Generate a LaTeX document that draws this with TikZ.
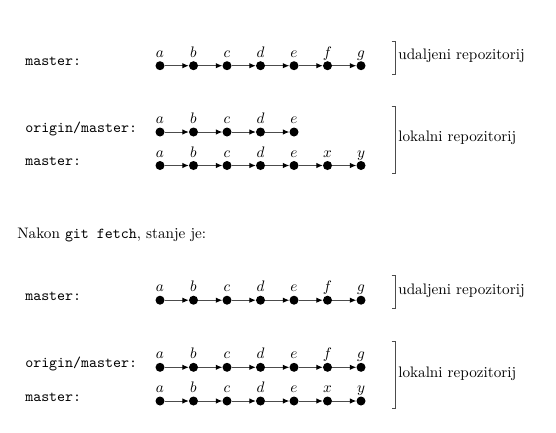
\documentclass[tikz,border=0pt]{standalone}
\usetikzlibrary{arrows.meta}
\begin{document}
\begin{tikzpicture}[x=1pt,y=-1pt,
  dot/.style={circle,fill=black,inner sep=0pt,minimum size=9pt},
  conn/.style={draw=black!70,line width=1pt,-{Latex[length=6.5pt,width=5.5pt,color=black]}},
  lbl/.style={anchor=base,inner sep=0pt,scale=1.52},
  txt/.style={anchor=base west,inner sep=0pt,scale=1.52},
  brk/.style={draw=black!70,line width=1pt}]
\useasboundingbox (0,0) rectangle (556,432);
% rows of commits
\foreach \r/\y/\labels in {1/65.7/{a,b,c,d,e,f,g},2/132/{a,b,c,d,e},3/165.5/{a,b,c,d,e,x,y},4/300.2/{a,b,c,d,e,f,g},5/367.3/{a,b,c,d,e,f,g},6/401/{a,b,c,d,e,x,y}}{
  \foreach \l [count=\i, remember=\i as \j (initially 0)] in \labels {
    \node[dot] (r\r-\i) at ({160+33.5*(\i-1)},\y) {};
    \node[lbl] (t\r-\i) at ({160+33.5*(\i-1)},\y-8.5) {$\l$};
    \ifnum\i>1 \draw[conn] (r\r-\j) -- (r\r-\i); \fi
  }
}
% branch labels
\node[txt] (m1) at (25,65.7) {\texttt{master:}};
\node[txt] (o2) at (25,132) {\texttt{origin/master:}};
\node[txt] (m3) at (25,165.5) {\texttt{master:}};
\node[txt] (nk) at (17,238) {Nakon \texttt{git fetch}, stanje je:};
\node[txt] (m4) at (25,300.2) {\texttt{master:}};
\node[txt] (o5) at (25,367.3) {\texttt{origin/master:}};
\node[txt] (m6) at (25,401) {\texttt{master:}};
% brackets
\draw[brk] (391.5,41.2) -- (395,41.2) -- (395,74.2) -- (391.5,74.2);
\draw[brk] (391.5,106) -- (395,106) -- (395,173) -- (391.5,173);
\draw[brk] (391.5,275.7) -- (395,275.7) -- (395,308.7) -- (391.5,308.7);
\draw[brk] (391.5,341.3) -- (395,341.3) -- (395,408.5) -- (391.5,408.5);
\node[txt] (u1) at (398,59.7) {udaljeni repozitorij};
\node[txt] (k1) at (398,141.5) {lokalni repozitorij};
\node[txt] (u2) at (398,294.2) {udaljeni repozitorij};
\node[txt] (k2) at (398,377) {lokalni repozitorij};
\end{tikzpicture}
\end{document}
